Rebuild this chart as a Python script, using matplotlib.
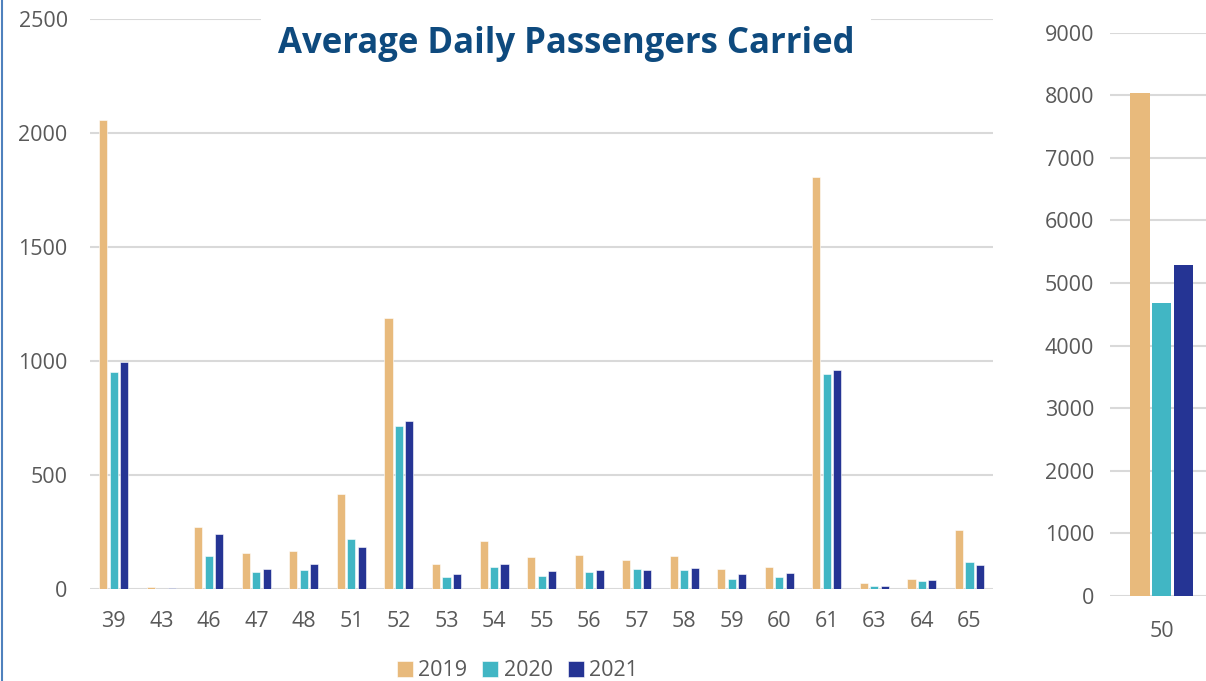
import matplotlib.pyplot as plt
import numpy as np
from matplotlib.lines import Line2D

plt.rcParams['font.family'] = ['Open Sans', 'DejaVu Sans']

routes = ['39', '43', '46', '47', '48', '51', '52', '53', '54', '55', '56',
          '57', '58', '59', '60', '61', '63', '64', '65']
pax_2019 = [2057, 8, 271, 159, 168, 417, 1189, 108, 209, 140, 148,
            127, 145, 88, 96, 1807, 25, 45, 259]
pax_2020 = [952, 2, 145, 76, 83, 219, 715, 53, 95, 56, 76,
            88, 85, 45, 54, 943, 12, 35, 118]
pax_2021 = [996, 5, 241, 86, 110, 184, 737, 64, 108, 80, 83,
            85, 92, 64, 70, 961, 15, 38, 105]

big_route = ['50']
big_2019 = [8030]
big_2020 = [4680]
big_2021 = [5280]

years = ['2019', '2020', '2021']
colors = ['#E8BA7C', '#41B6C4', '#253494']
grid_c = '#D9D9D9'
text_c = '#595959'
fs = 15.5

fig = plt.figure(figsize=(12.06, 6.81), dpi=100)

# main panel
ax = fig.add_axes([0.0746, 0.135, 0.749, 0.837])
x = np.arange(len(routes))
w = 0.17
step = 0.22
for i, (vals, c) in enumerate(zip([pax_2019, pax_2020, pax_2021], colors)):
    ax.bar(x + (i - 1) * step, vals, width=w, color=c, edgecolor='white',
           linewidth=0.4, label=years[i], zorder=3)
ax.set_xlim(-0.5, len(routes) - 0.5)
ax.set_ylim(0, 2500)
ax.set_yticks(np.arange(0, 2501, 500))
ax.set_xticks(x)
ax.set_xticklabels(routes)
ax.yaxis.grid(True, color=grid_c, linewidth=1.5, zorder=0)
ax.set_axisbelow(True)
for s in ax.spines.values():
    s.set_visible(False)
ax.tick_params(length=0, labelsize=fs, colors=text_c)
ax.tick_params(axis='y', pad=16)
ax.tick_params(axis='x', pad=16)

# side panel for route 50
ax2 = fig.add_axes([0.920, 0.125, 0.08, 0.827])
xb = np.arange(len(big_route))
for i, (vals, c) in enumerate(zip([big_2019, big_2020, big_2021], colors)):
    ax2.bar(xb + (i - 1) * 0.225, vals, width=0.2, color=c, zorder=3)
ax2.set_xlim(-0.54, 0.46)
ax2.set_ylim(0, 9000)
ax2.set_yticks(np.arange(0, 9001, 1000))
ax2.set_xticks(xb)
ax2.set_xticklabels(big_route)
ax2.yaxis.grid(True, color=grid_c, linewidth=1.5, zorder=0)
ax2.set_axisbelow(True)
for s in ax2.spines.values():
    s.set_visible(False)
ax2.tick_params(length=0, labelsize=fs, colors=text_c)
ax2.tick_params(axis='y', pad=11)
ax2.tick_params(axis='x', pad=18)

fig.text(0.4695, 0.936, 'Average Daily Passengers Carried', ha='center',
         va='center', fontsize=25, fontweight='bold', color='#0E4A7E',
         bbox=dict(facecolor='white', edgecolor='none', pad=12))

fig.legend(loc='center', bbox_to_anchor=(0.429, 0.015), ncol=3,
           frameon=False, fontsize=fs, labelcolor=text_c,
           handlelength=0.75, handleheight=0.75, handletextpad=0.25,
           columnspacing=0.7)

fig.add_artist(Line2D([0.0015, 0.0015], [0, 1], color='#4F81BD', lw=1.5))

plt.savefig('out.png', dpi=100)
